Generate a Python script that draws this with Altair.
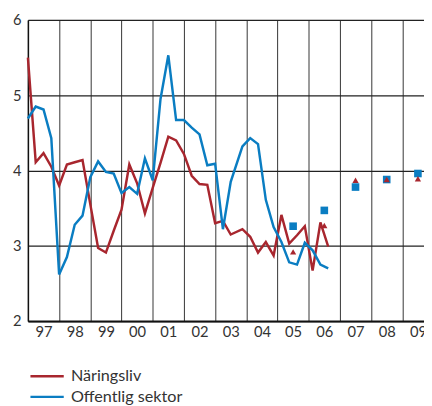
import altair as alt
import pandas as pd

# quarterly observation times (fractional years)
times = [1997.0, 1997.25, 1997.5, 1997.75,
         1998.0, 1998.25, 1998.5, 1998.75,
         1999.0, 1999.25, 1999.5, 1999.75,
         2000.0, 2000.25, 2000.5, 2000.75,
         2001.0, 2001.25, 2001.5, 2001.75,
         2002.0, 2002.25, 2002.5, 2002.75,
         2003.0, 2003.25, 2003.5, 2003.875,
         2004.125, 2004.375, 2004.625, 2004.875,
         2005.125, 2005.375, 2005.625, 2005.875,
         2006.125, 2006.375, 2006.625]

naringsliv = [5.50, 4.11, 4.23, 4.05,
              3.80, 4.08, 4.11, 4.14,
              3.55, 2.97, 2.91, 3.20,
              3.48, 4.08, 3.83, 3.43,
              3.77, 4.10, 4.45, 4.40,
              4.22, 3.93, 3.82, 3.81,
              3.30, 3.33, 3.15, 3.22,
              3.12, 2.91, 3.05, 2.87,
              3.41, 3.03, 3.14, 3.26,
              2.67, 3.31, 2.99]

offentlig = [4.69, 4.85, 4.81, 4.43,
             2.62, 2.85, 3.28, 3.40,
             3.91, 4.12, 3.98, 3.96,
             3.70, 3.78, 3.69, 4.16,
             3.87, 4.95, 5.53, 4.67,
             4.67, 4.57, 4.48, 4.07,
             4.09, 3.22, 3.85, 4.32,
             4.43, 4.35, 3.61, 3.25,
             3.05, 2.78, 2.75, 3.04,
             2.94, 2.75, 2.70]

# forecasts (annual, placed mid-year)
fc_years = [2005.5, 2006.5, 2007.5, 2008.5, 2009.5]
fc_naringsliv = [2.92, 3.27, 3.87, 3.88, 3.89]
fc_offentlig = [3.26, 3.47, 3.78, 3.88, 3.96]

series_names = ["Näringsliv", "Offentlig sektor"]
colors = ["#a8262e", "#0a7dc2"]
year_ticks = list(range(1997, 2010))
y_ticks = [2, 3, 4, 5, 6]

lines_df = pd.DataFrame({
    "t": times * 2,
    "value": naringsliv + offentlig,
    "serie": [series_names[0]] * len(times) + [series_names[1]] * len(times),
})
fc_df = pd.DataFrame({
    "t": fc_years,
    "n": fc_naringsliv,
    "o": fc_offentlig,
})

x_scale = alt.Scale(domain=[1997, 2009.695], nice=False, zero=False)
y_scale = alt.Scale(domain=[2, 6], nice=False, zero=False)


def x_axis():
    return alt.Axis(
        values=year_ticks, grid=True, gridColor="#333333", gridWidth=1,
        ticks=False, domain=True, domainColor="#111111", domainWidth=2,
        labelExpr="substring(toString(datum.value), 2)",
        labelOffset=15.9, labelFlush=False, labelOverlap=False,
        labelFont="Lato", labelFontSize=15, labelColor="#333333",
        labelPadding=4, title=None,
    )


def y_axis():
    return alt.Axis(
        values=y_ticks, format="d", grid=True, gridColor="#222222",
        gridWidth=1.3, ticks=False, domain=True, domainColor="#111111",
        domainWidth=1.5, labelFont="Lato", labelFontSize=15,
        labelColor="#333333", labelPadding=7, title=None,
    )


lines = alt.Chart(lines_df).mark_line(strokeWidth=2.5).encode(
    x=alt.X("t:Q", scale=x_scale, axis=x_axis()),
    y=alt.Y("value:Q", scale=y_scale, axis=y_axis()),
    color=alt.Color(
        "serie:N",
        scale=alt.Scale(domain=series_names, range=colors),
        legend=alt.Legend(
            orient="none", legendX=11.3, legendY=355, direction="vertical",
            title=None, symbolType="M-3,0H3", symbolSize=128,
            symbolStrokeWidth=2.5, labelFont="Lato", labelFontSize=16.5,
            labelColor="#333333", labelOffset=16, rowPadding=4,
            padding=0,
        ),
    ),
    detail="serie:N",
)

squares = alt.Chart(fc_df).mark_point(
    shape="square", filled=True, size=60, opacity=1, color=colors[1]
).encode(
    x=alt.X("t:Q", scale=x_scale, axis=x_axis()),
    y=alt.Y("o:Q", scale=y_scale, axis=y_axis()),
)
triangles = alt.Chart(fc_df).mark_point(
    shape="triangle-up", filled=True, size=40, opacity=1, color=colors[0]
).encode(
    x=alt.X("t:Q", scale=x_scale, axis=x_axis()),
    y=alt.Y("n:Q", scale=y_scale, axis=y_axis()),
)

chart = alt.layer(lines, squares, triangles).properties(
    width=403.7, height=307,
    padding={"left": 20.3, "top": 8.3, "right": 0, "bottom": 82},
    autosize=alt.AutoSizeParams(type="none"),
).configure_view(stroke=None).configure(background="white")

chart.save("out.html", embed_options={"renderer": "svg", "actions": False})
